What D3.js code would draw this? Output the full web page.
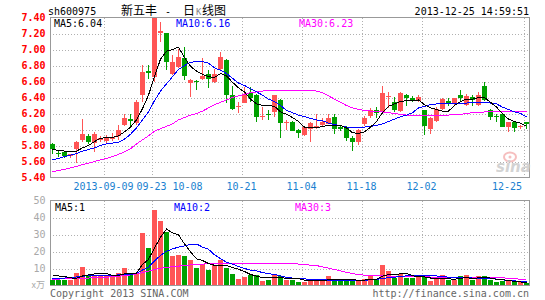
<!DOCTYPE html>
<html>
<head>
<meta charset="utf-8">
<script src="https://cdn.jsdelivr.net/npm/d3@7"></script>
<style>
    body { margin: 0; background: #fff; }
    svg { display: block; }
</style>
</head>
<body>
<div id="chart"></div>
<script>
// trading days shown (2013-08-27 .. 2013-12-25)
var dates = [
    "2013-08-27","2013-08-28","2013-08-29","2013-08-30",
    "2013-09-02","2013-09-03","2013-09-04","2013-09-05","2013-09-06","2013-09-09","2013-09-10","2013-09-11","2013-09-12","2013-09-13",
    "2013-09-16","2013-09-17","2013-09-18","2013-09-23","2013-09-24","2013-09-25","2013-09-26","2013-09-27","2013-09-30",
    "2013-10-08","2013-10-09","2013-10-10","2013-10-11","2013-10-14","2013-10-15","2013-10-16","2013-10-17","2013-10-18",
    "2013-10-21","2013-10-22","2013-10-23","2013-10-24","2013-10-25","2013-10-28","2013-10-29","2013-10-30","2013-10-31",
    "2013-11-01","2013-11-04","2013-11-05","2013-11-06","2013-11-07","2013-11-08","2013-11-11","2013-11-12","2013-11-13",
    "2013-11-14","2013-11-15","2013-11-18","2013-11-19","2013-11-20","2013-11-21","2013-11-22","2013-11-25","2013-11-26",
    "2013-11-27","2013-11-28","2013-11-29","2013-12-02","2013-12-03","2013-12-04","2013-12-05","2013-12-06","2013-12-09",
    "2013-12-10","2013-12-11","2013-12-12","2013-12-13","2013-12-16","2013-12-17","2013-12-18","2013-12-19","2013-12-20",
    "2013-12-23","2013-12-24","2013-12-25"
];

var open = [5.82,5.71,5.72,5.66,5.75,5.86,5.92,5.84,5.86,5.86, 5.88,5.92,6.06,6.13,6.08,6.43,6.73,6.66,7.21,7.21,
    6.70,6.79,6.89,6.58,6.61,6.63,6.69,6.60,6.76,6.87, 6.43,6.28,6.34,6.46,6.43,6.16,6.19,6.22,6.37,6.09,
    6.10,6.00,5.93,6.00,6.03,6.06,6.08,6.16,6.03,6.03, 5.90,5.85,6.07,6.16,6.24,6.22,6.41,6.35,6.24,6.43,
    6.40,6.36,6.24,6.01,6.11,6.26,6.36,6.31,6.43,6.31, 6.41,6.31,6.54,6.24,6.17,6.20,6.04,6.10,6.03,6.09];
var high = [5.83,5.74,5.73,5.70,5.86,6.13,5.94,5.97,5.92,5.93, 5.96,6.06,6.20,6.20,6.37,6.81,6.81,7.40,7.34,7.21,
    6.93,7.01,7.03,6.63,6.62,6.89,6.74,6.76,6.97,6.88, 6.55,6.35,6.53,6.53,6.44,6.28,6.24,6.43,6.38,6.12,
    6.11,6.01,6.04,6.10,6.20,6.14,6.19,6.19,6.05,6.04, 5.92,6.01,6.17,6.27,6.28,6.54,6.47,6.41,6.47,6.45,
    6.42,6.43,6.25,6.16,6.28,6.40,6.39,6.40,6.50,6.44, 6.43,6.47,6.59,6.26,6.20,6.21,6.10,6.11,6.06,6.10];
var low = [5.69,5.66,5.65,5.64,5.58,5.84,5.82,5.72,5.84,5.83, 5.86,5.87,6.04,6.03,6.06,6.34,6.63,6.60,7.10,6.74,
    6.68,6.77,6.62,6.41,6.49,6.62,6.52,6.58,6.74,6.33, 6.24,6.21,6.33,6.35,6.10,6.12,6.12,6.16,5.90,6.00,
    5.98,5.89,5.92,5.85,6.01,6.05,6.07,5.94,5.98,5.86, 5.73,5.81,6.04,6.14,6.14,6.20,6.27,6.22,6.22,6.30,
    6.34,6.35,5.93,5.95,6.09,6.25,6.30,6.29,6.36,6.30, 6.29,6.30,6.36,6.12,6.10,6.03,5.97,5.97,6.01,6.01];
var close = [5.76,5.70,5.67,5.69,5.84,5.94,5.85,5.95,5.89,5.91, 5.91,5.99,6.15,6.11,6.34,6.72,6.71,7.40,7.23,6.85,
    6.85,6.91,6.66,6.62,6.60,6.67,6.63,6.70,6.91,6.43, 6.26,6.29,6.45,6.40,6.15,6.17,6.18,6.43,6.08,6.10,
    5.99,5.96,6.03,6.08,6.04,6.10,6.15,6.01,6.00,5.89, 5.85,6.00,6.15,6.24,6.20,6.46,6.42,6.25,6.46,6.39,
    6.37,6.41,6.04,6.15,6.26,6.38,6.33,6.39,6.39,6.42, 6.37,6.43,6.37,6.15,6.16,6.04,6.10,6.02,6.04,6.06];

// price moving averages as drawn on the chart
var ma5 = [5.75,5.74,5.73,5.72,5.73,5.77,5.80,5.85,5.89,5.90, 5.90,5.92,5.97,6.03,6.12,6.26,6.43,6.66,6.88,6.98,
    7.00,7.03,6.90,6.79,6.73,6.69,6.66,6.65,6.70,6.67, 6.59,6.52,6.47,6.38,6.32,6.30,6.30,6.29,6.22,6.19,
    6.15,6.10,6.03,6.02,6.02,6.04,6.05,6.05,6.05,6.02, 5.96,5.95,5.97,6.03,6.10,6.21,6.29,6.32,6.35,6.36,
    6.36,6.37,6.31,6.27,6.25,6.23,6.23,6.30,6.35,6.38, 6.38,6.40,6.40,6.34,6.28,6.20,6.13,6.10,6.08,6.04];
var ma10 = [5.62,5.64,5.66,5.68,5.70,5.73,5.75,5.77,5.80,5.82, 5.83,5.84,5.88,5.94,6.02,6.12,6.22,6.36,6.48,6.57,
    6.66,6.75,6.80,6.84,6.85,6.85,6.83,6.77,6.74,6.70, 6.64,6.58,6.55,6.51,6.47,6.43,6.38,6.35,6.30,6.24,
    6.21,6.18,6.16,6.14,6.12,6.11,6.08,6.06,6.05,6.03, 6.02,6.03,6.03,6.04,6.05,6.07,6.10,6.13,6.16,6.18,
    6.21,6.27,6.29,6.31,6.32,6.32,6.33,6.33,6.33,6.33, 6.34,6.34,6.34,6.33,6.32,6.28,6.25,6.22,6.20,6.16];
var ma30 = [5.47,5.49,5.50,5.52,5.54,5.56,5.58,5.60,5.62,5.64, 5.66,5.69,5.72,5.76,5.82,5.87,5.92,5.98,6.01,6.04,
    6.07,6.12,6.15,6.18,6.20,6.23,6.27,6.31,6.34,6.37, 6.40,6.42,6.44,6.46,6.47,6.48,6.49,6.49,6.49,6.49,
    6.49,6.49,6.49,6.49,6.48,6.46,6.42,6.38,6.34,6.30, 6.27,6.25,6.24,6.23,6.22,6.22,6.21,6.20,6.19,6.18,
    6.18,6.17,6.17,6.17,6.17,6.17,6.18,6.19,6.19,6.20, 6.21,6.21,6.22,6.23,6.23,6.23,6.23,6.23,6.23,6.23];

// volume (x万) and its averages
var volume = [3.1,3.1,3.0,3.5,7.2,11.0,6.0,6.4,5.6,6.0, 5.0,7.2,10.4,6.4,7.0,30.8,22.1,44.3,38.0,31.2,
    17.4,18.0,17.4,14.9,10.4,12.5,9.0,11.8,14.9,10.4, 7.0,3.7,4.9,6.0,6.0,2.5,3.0,6.4,5.7,3.0,
    3.0,2.0,2.0,3.0,4.0,2.7,5.3,3.2,3.2,2.5, 2.7,3.5,3.9,5.3,3.0,11.8,8.4,4.5,6.6,4.5,
    4.7,5.0,5.3,2.5,4.0,6.0,3.0,3.5,5.3,6.0, 3.0,5.3,5.3,3.0,2.0,2.5,3.0,2.1,2.0,1.6];
var volMa5 = [5.6,5.6,5.4,4.5,4.2,5.6,6.2,6.8,7.2,7.0, 5.9,6.0,6.8,7.0,7.3,12.4,15.4,22.1,28.4,33.2,
    31.0,29.8,24.4,19.8,15.7,14.7,12.9,11.9,11.8,11.7, 10.6,9.6,8.2,6.5,5.5,4.6,4.5,4.8,4.7,4.2,
    4.2,4.0,3.2,2.7,2.8,2.8,3.4,3.6,3.7,3.4, 3.4,3.1,3.2,3.6,3.7,5.5,6.4,6.6,6.8,7.0,
    5.8,5.1,5.1,4.4,4.2,4.4,4.0,3.6,4.3,4.6, 4.1,4.5,4.8,4.4,3.6,3.4,3.0,2.4,2.1,1.7];
var volMa10 = [4.1,4.2,4.4,4.6,5.0,5.5,5.7,5.9,6.0,6.1, 6.1,6.2,6.3,6.5,7.1,9.1,10.7,14.5,17.7,20.2,
    21.5,22.6,23.3,24.1,24.4,22.6,21.3,18.1,15.8,13.7, 12.6,11.2,10.0,9.1,8.6,7.6,7.0,6.5,5.6,4.8,
    4.4,4.2,3.9,3.6,3.4,3.3,3.2,3.1,3.1,3.1, 3.1,3.1,3.1,3.3,3.5,4.2,4.6,4.9,5.3,5.7,
    6.0,6.0,5.9,5.7,5.6,5.3,4.9,4.6,4.6,4.5, 4.4,4.4,4.3,4.1,3.8,3.3,3.0,2.7,2.4,2.1];
var volMa30 = [3.7,3.8,3.9,4.0,4.1,4.2,4.4,4.5,4.7,4.9, 5.1,5.4,5.8,6.2,6.8,7.6,8.4,9.4,10.2,10.7,
    11.0,11.4,11.8,12.1,12.4,12.6,12.8,12.9,12.9,12.9, 12.9,12.9,12.9,12.9,12.9,12.9,12.9,12.9,12.9,12.9,
    12.9,12.6,12.3,12.0,11.7,11.0,10.2,9.4,8.6,7.8, 7.0,6.4,6.1,6.0,5.8,5.7,5.6,5.5,5.4,5.3,
    5.2,5.1,5.1,5.0,5.0,5.0,5.0,5.0,5.0,5.0, 4.9,4.9,4.8,4.7,4.6,4.5,4.3,4.0,3.7,3.2];

var priceTicks = [7.4, 7.2, 7.0, 6.8, 6.6, 6.4, 6.2, 6.0, 5.8, 5.6, 5.4];
var priceGrid = [7.2, 7.0, 6.8, 6.6, 6.4, 6.2, 6.0, 5.8, 5.6];
var volTicks = [10, 20, 30, 40, 50];
var volGrid = [10, 20, 30, 40];
var labelDates = ["2013-09-09","2013-09-23","2013-10-08","2013-10-21","2013-11-04","2013-11-18","2013-12-02","2013-12-25"];
var gridDates = ["2013-09-09","2013-09-23","2013-10-21","2013-11-04","2013-11-18","2013-12-02","2013-12-25"];

var stockCode = "sh600975";
var stockName = "新五丰";
var timeStamp = "2013-12-25 14:59:51";

var MONO = '"DejaVu Sans Mono", "Liberation Mono", monospace';
var CJK = '"Noto Sans CJK SC", "Noto Sans", sans-serif';
var RED = "#ff5555", GREEN = "#00a000";
var width = 545, height = 300;
var left = 50, right = 529;
var priceTop = 17.5, priceBottom = 177.5;
var volTop = 200.5, volBottom = 285.5;

var svg = d3.select("#chart")
    .append("svg")
    .attr("width", width)
    .attr("height", height)
    .style("background", "#fff");

// one 5px candle every 6px
var x = d3.scaleBand()
    .domain(dates)
    .range([left, right])
    .paddingInner(1 / 6)
    .paddingOuter(0);
var y = d3.scaleLinear().domain([5.4, 7.4]).range([priceBottom, priceTop]);
var yv = d3.scaleLinear().domain([0, 50]).range([volBottom, volTop]);

var bx = function(d) { return Math.round(x(d)); };
var bw = Math.round(x.bandwidth());

// grids
function hGrid(scale, ticks) {
    var g = svg.append("g")
        .attr("transform", `translate(${left},0)`)
        .call(d3.axisLeft(scale).tickValues(ticks).tickFormat("").tickSize(-(right - left)));
    g.select(".domain").remove();
    g.selectAll("line")
        .attr("stroke", "#b0b0b0")
        .attr("stroke-dasharray", "1,2")
        .attr("shape-rendering", "crispEdges");
}
hGrid(y, priceGrid);
hGrid(yv, volGrid);

[[priceTop, priceBottom], [volTop, volBottom]].forEach(function(p) {
    svg.append("g").selectAll("line")
        .data(gridDates)
        .enter().append("line")
        .attr("x1", d => bx(d) + 0.5)
        .attr("x2", d => bx(d) + 0.5)
        .attr("y1", p[0])
        .attr("y2", p[1])
        .attr("stroke", "#b0b0b0")
        .attr("stroke-dasharray", "1,2")
        .attr("shape-rendering", "crispEdges");
});

// panel frames
[[priceTop, priceBottom], [volTop, volBottom]].forEach(function(p) {
    svg.append("rect")
        .attr("x", left + 0.5)
        .attr("y", p[0])
        .attr("width", right - left)
        .attr("height", p[1] - p[0])
        .attr("fill", "none")
        .attr("stroke", "#999")
        .attr("shape-rendering", "crispEdges");
});

// sina watermark
var wm = svg.append("g").attr("opacity", 0.85);
wm.append("ellipse")
    .attr("cx", 510).attr("cy", 157).attr("rx", 6).attr("ry", 4.5)
    .attr("fill", "none").attr("stroke", "#f5b5b5").attr("stroke-width", 2);
wm.append("circle").attr("cx", 510).attr("cy", 157).attr("r", 1.5).attr("fill", "#f5b5b5");
wm.append("text")
    .attr("x", 496).attr("y", 172)
    .text("sina")
    .style("font-family", '"DejaVu Sans", sans-serif')
    .style("font-size", "15px")
    .style("font-weight", "bold")
    .style("font-style", "italic")
    .style("fill", "#cccccc");

// candles
var rows = dates.map(function(d, i) {
    return { date: d, o: open[i], h: high[i], l: low[i], c: close[i], v: volume[i] };
});
var colorOf = d => d.c >= d.o ? RED : GREEN;

var candles = svg.append("g")
    .attr("shape-rendering", "crispEdges")
    .selectAll("g")
    .data(rows)
    .enter().append("g");

candles.append("line")
    .attr("x1", d => bx(d.date) + 2.5)
    .attr("x2", d => bx(d.date) + 2.5)
    .attr("y1", d => Math.max(y(d.h), priceTop))
    .attr("y2", d => y(d.l))
    .attr("stroke", colorOf);

candles.append("rect")
    .attr("x", d => bx(d.date))
    .attr("width", bw)
    .attr("y", d => Math.round(Math.max(y(Math.max(d.o, d.c)), priceTop)))
    .attr("height", d => Math.max(1, Math.round(Math.abs(y(d.o) - y(d.c)))))
    .attr("fill", colorOf);

// volume bars
svg.append("g")
    .attr("shape-rendering", "crispEdges")
    .selectAll("rect")
    .data(rows)
    .enter().append("rect")
    .attr("x", d => bx(d.date))
    .attr("width", bw)
    .attr("y", d => Math.round(yv(d.v)))
    .attr("height", d => Math.round(volBottom - 0.5) - Math.round(yv(d.v)))
    .attr("fill", colorOf);

// moving average lines
function maLine(values, scale, color) {
    var line = d3.line()
        .x((v, i) => bx(dates[i]) + 2.5)
        .y(v => scale(v));
    svg.append("path")
        .datum(values)
        .attr("fill", "none")
        .attr("stroke", color)
        .attr("stroke-width", 1)
        .attr("shape-rendering", "crispEdges")
        .attr("d", line);
}
maLine(ma30, y, "#ff00ff");
maLine(ma10, y, "#0000ff");
maLine(ma5, y, "#000000");
maLine(volMa30, yv, "#ff00ff");
maLine(volMa10, yv, "#0000ff");
maLine(volMa5, yv, "#000000");

// axes labels
var priceAxis = svg.append("g")
    .attr("transform", `translate(${left},0)`)
    .call(d3.axisLeft(y).tickValues(priceTicks).tickFormat(d3.format(".2f")).tickSize(0).tickPadding(4.5));
priceAxis.select(".domain").remove();
priceAxis.selectAll("text")
    .style("font-family", MONO)
    .style("font-size", "10px")
    .style("font-weight", "bold")
    .style("fill", "#ff0000");

var volAxis = svg.append("g")
    .attr("transform", `translate(${left},0)`)
    .call(d3.axisLeft(yv).tickValues(volTicks).tickSize(0).tickPadding(4.5));
volAxis.select(".domain").remove();
volAxis.selectAll("text")
    .style("font-family", MONO)
    .style("font-size", "10px")
    .style("fill", "#a8a8a8");

var dateAxis = svg.append("g")
    .attr("transform", `translate(-3,${priceBottom})`)
    .call(d3.axisBottom(x).tickValues(labelDates)
        .tickFormat((d, i) => i === 0 ? d : d.slice(5))
        .tickSize(0).tickPadding(5.4));
dateAxis.select(".domain").remove();
dateAxis.selectAll("text")
    .style("font-family", MONO)
    .style("font-size", "10px")
    .style("fill", "#1a7fd0");
// keep the last date label inside the frame
dateAxis.selectAll("text").filter((d, i, n) => i === n.length - 1)
    .each(function(d) {
        var w = this.getComputedTextLength();
        var center = x(d) + x.bandwidth() / 2 - 3;
        var limit = bx(d) - 2;
        if (center + w / 2 > limit) d3.select(this).attr("x", limit - (center + w / 2));
    });

svg.append("text")
    .attr("x", 45).attr("y", 288)
    .attr("text-anchor", "end")
    .text("x万")
    .style("font-family", CJK)
    .style("font-size", "9px")
    .style("fill", "#aaaaaa");

// header
svg.append("text")
    .attr("x", 48).attr("y", 15)
    .text(stockCode)
    .style("font-family", MONO).style("font-size", "10px").style("fill", "#000");

var title = svg.append("text")
    .attr("y", 15)
    .style("font-family", CJK).style("font-size", "12px").style("fill", "#000");
title.append("tspan").attr("x", 121).text(stockName);
title.append("tspan").attr("x", 165).style("font-family", MONO).style("font-size", "10px").text("-");
title.append("tspan").attr("x", 183).text("日");
title.append("tspan").attr("x", 196).style("font-family", MONO).style("font-size", "9px").style("fill", "#888").text("K");
title.append("tspan").attr("x", 202).text("线图");

svg.append("text")
    .attr("x", right).attr("y", 15)
    .attr("text-anchor", "end")
    .text(timeStamp)
    .style("font-family", MONO).style("font-size", "10px").style("fill", "#000");

// legends
function legend(yPos, xs, items) {
    items.forEach(function(it, i) {
        svg.append("text")
            .attr("x", xs[i]).attr("y", yPos)
            .text(it.label)
            .style("font-family", MONO).style("font-size", "10px").style("fill", it.color);
    });
}
var last = a => a[a.length - 1];
legend(26.5, [54, 176, 299], [
    { label: "MA5:" + last(ma5).toFixed(2), color: "#000" },
    { label: "MA10:" + last(ma10).toFixed(2), color: "#0000ff" },
    { label: "MA30:" + last(ma30).toFixed(2), color: "#ff00ff" }
]);
legend(210.5, [55, 174, 295], [
    { label: "MA5:" + Math.floor(last(volMa5)), color: "#000" },
    { label: "MA10:" + Math.floor(last(volMa10)), color: "#0000ff" },
    { label: "MA30:" + Math.floor(last(volMa30)), color: "#ff00ff" }
]);

// footer
svg.append("text")
    .attr("x", left).attr("y", 296.5)
    .text("Copyright 2013 SINA.COM")
    .style("font-family", MONO).style("font-size", "10px").style("fill", "#666");
svg.append("text")
    .attr("x", right).attr("y", 296.5)
    .attr("text-anchor", "end")
    .text("http://finance.sina.com.cn")
    .style("font-family", MONO).style("font-size", "10px").style("fill", "#666");
</script>
</body>
</html>
